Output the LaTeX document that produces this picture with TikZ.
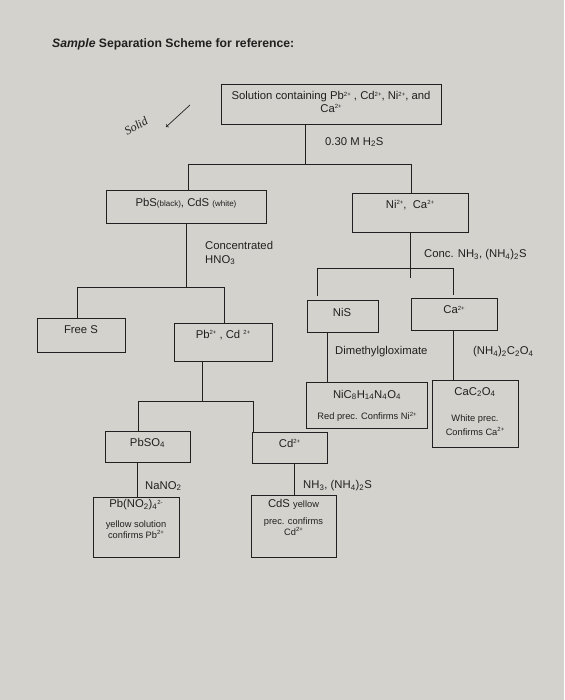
\documentclass[tikz,border=0pt]{standalone}
\usepackage{fontspec}
\setmainfont{Liberation Sans}
\newfontfamily\handfont{Liberation Serif}
\newcommand{\sps}[1]{\raisebox{3.6pt}{\fontsize{6pt}{6pt}\selectfont #1}}
\newcommand{\sbs}[1]{\textsubscript{#1}}
\newcommand{\mainsz}{\fontsize{11.3pt}{13pt}\selectfont}
\newcommand{\notesz}{\fontsize{9.3pt}{11pt}\selectfont}
\newcommand{\tinysz}{\fontsize{8pt}{9pt}\selectfont}
\definecolor{paper}{RGB}{212,210,205}
\definecolor{ink}{RGB}{32,32,32}

\begin{document}
\begin{tikzpicture}[x=1pt, y=-1pt,
    box/.style={draw=ink, line width=0.9pt},
    txt/.style={inner sep=0pt, font=\mainsz, text=ink},
    note/.style={inner sep=0pt, font=\notesz, text=ink},
    lbl/.style={anchor=west, inner sep=0pt, font=\mainsz, text=ink},
    wire/.style={draw=ink, line width=0.9pt}]
  \fill[paper] (0,0) rectangle (564,700);
  \useasboundingbox (0,0) rectangle (564,700);

  % title and handwritten note
  \node[anchor=west, inner sep=0pt, font=\fontsize{12.2pt}{14pt}\selectfont\bfseries, text=ink] (title) at (52,44) {\textit{Sample} Separation Scheme for reference:};
  \node[rotate=30, inner sep=0pt, font=\handfont\itshape\fontsize{12pt}{13pt}\selectfont, text=ink] (solid) at (136,126) {Solid};
  \coordinate (hand-a) at (190,105);
  \coordinate (hand-b) at (166,127);
  \draw[ink, line width=0.7pt, ->] (hand-a) -- (hand-b);

  % boxes
  \node[box, minimum width=220pt, minimum height=40pt] (top) at (331,104) {};
  \node[box, minimum width=160pt, minimum height=33pt] (pbs) at (186,206.5) {};
  \node[box, minimum width=116pt, minimum height=39pt] (ni) at (410,212.5) {};
  \node[box, minimum width=88pt, minimum height=34pt] (frees) at (81,335) {};
  \node[box, minimum width=98pt, minimum height=38pt] (pbcd) at (223,342) {};
  \node[box, minimum width=71pt, minimum height=32pt] (nis) at (342.5,316) {};
  \node[box, minimum width=86pt, minimum height=32pt] (ca) at (454,314) {};
  \node[box, minimum width=121pt, minimum height=46pt] (nicx) at (366.5,405) {};
  \node[box, minimum width=86pt, minimum height=67pt] (cac) at (475,413.5) {};
  \node[box, minimum width=85pt, minimum height=31pt] (pbso) at (147.5,446.5) {};
  \node[box, minimum width=75pt, minimum height=31pt] (cd) at (289.5,447.5) {};
  \node[box, minimum width=86pt, minimum height=60pt] (pbno) at (136,527) {};
  \node[box, minimum width=85pt, minimum height=62pt] (cds) at (293.5,526) {};

  % box texts
  \node[txt, align=center, font=\fontsize{11.3pt}{12.5pt}\selectfont] (top-t) at (331,102) {Solution containing Pb\sps{2+} , Cd\sps{2+}, Ni\sps{2+}, and\\Ca\sps{2+}};
  \node[txt] (pbs-t) at (186,203) {PbS{\tinysz(black)}, CdS {\tinysz(white)}};
  \node[txt] (ni-t) at (410,205) {Ni\sps{2+},\ \ Ca\sps{2+}};
  \node[txt] (frees-t) at (81,330) {Free S};
  \node[txt] (pbcd-t) at (223,335) {Pb\sps{2+} , Cd \sps{2+}};
  \node[txt] (nis-t) at (342,312) {NiS};
  \node[txt] (ca-t) at (454,310) {Ca\sps{2+}};
  \node[txt] (nicx-t) at (367,395) {NiC\sbs{8}H\sbs{14}N\sbs{4}O\sbs{4}};
  \node[note] (nicx-n) at (367,417) {Red prec. Confirms Ni\sps{2+}};
  \node[txt] (cac-t) at (475,392) {CaC\sbs{2}O\sbs{4}};
  \node[note, align=center, font=\fontsize{9.3pt}{14pt}\selectfont] (cac-n) at (475,425) {White prec.\\Confirms Ca\sps{2+}};
  \node[txt] (pbso-t) at (147.5,443) {PbSO\sbs{4}};
  \node[txt] (cd-t) at (289.5,443) {Cd\sps{2+}};
  \node[txt] (pbno-t) at (136,505) {Pb(NO\sbs{2})\sbs{4}\sps{2-}};
  \node[note, align=center, font=\fontsize{9.3pt}{11.5pt}\selectfont] (pbno-n) at (136,529.5) {yellow solution\\confirms Pb\sps{2+}};
  \node[txt] (cds-t) at (293.5,504) {CdS {\notesz yellow}};
  \node[note, align=center, font=\fontsize{9.3pt}{11.5pt}\selectfont] (cds-n) at (293.5,526.5) {prec. confirms\\Cd\sps{2+}};

  % reagent labels
  \node[lbl] (h2s) at (325,142) {0.30 M H\sbs{2}S};
  \node[lbl, align=left, font=\fontsize{11.3pt}{14pt}\selectfont] (hno3) at (205,253) {Concentrated\\HNO\sbs{3}};
  \node[lbl] (nh3a) at (424,255) {Conc. NH\sbs{3}, (NH\sbs{4})\sbs{2}S};
  \node[lbl] (dmg) at (335,352) {Dimethylgloximate};
  \node[lbl] (oxal) at (473,352) {(NH\sbs{4})\sbs{2}C\sbs{2}O\sbs{4}};
  \node[lbl] (nano2) at (145,486) {NaNO\sbs{2}};
  \node[lbl] (nh3b) at (303,486) {NH\sbs{3}, (NH\sbs{4})\sbs{2}S};

  % H2S split
  \coordinate (split1) at (305,164);
  \coordinate (split1-l) at (188,164);
  \coordinate (split1-r) at (411,164);
  \draw[wire] (top.south -| split1) -- (split1);
  \draw[wire] (split1-l |- pbs.north) -- (split1-l) -- (split1-r) -- (split1-r |- ni.north);

  % HNO3 split
  \coordinate (split2) at (186,287);
  \coordinate (split2-l) at (77,287);
  \coordinate (split2-r) at (224,287);
  \draw[wire] (pbs.south -| split2) -- (split2);
  \draw[wire] (split2-l |- frees.north) -- (split2-l) -- (split2-r) -- (split2-r |- pbcd.north);

  % Pb / Cd split
  \coordinate (split3) at (202,401);
  \coordinate (split3-l) at (138,401);
  \coordinate (split3-r) at (253,401);
  \draw[wire] (pbcd.south -| split3) -- (split3);
  \draw[wire] (split3-l |- pbso.north) -- (split3-l) -- (split3-r) -- (split3-r |- cd.north);
  \coordinate (lead-pb) at (137,480);
  \coordinate (lead-cd) at (294,480);
  \draw[wire] (pbso.south -| lead-pb) -- (pbno.north -| lead-pb);
  \draw[wire] (cd.south -| lead-cd) -- (cds.north -| lead-cd);

  % Ni / Ca split
  \coordinate (split4) at (410,268);
  \coordinate (split4-end) at (410,278);
  \coordinate (split4-l) at (317,268);
  \coordinate (split4-r) at (453,268);
  \draw[wire] (ni.south -| split4) -- (split4-end);
  \draw[wire] ([yshift=4pt]split4-l |- nis.north) -- (split4-l) -- (split4-r) -- ([yshift=3pt]split4-r |- ca.north);
  \coordinate (lead-ni) at (327,360);
  \coordinate (lead-ca) at (453,360);
  \draw[wire] (nis.south -| lead-ni) -- (nicx.north -| lead-ni);
  \draw[wire] (ca.south -| lead-ca) -- (cac.north -| lead-ca);
\end{tikzpicture}
\end{document}
